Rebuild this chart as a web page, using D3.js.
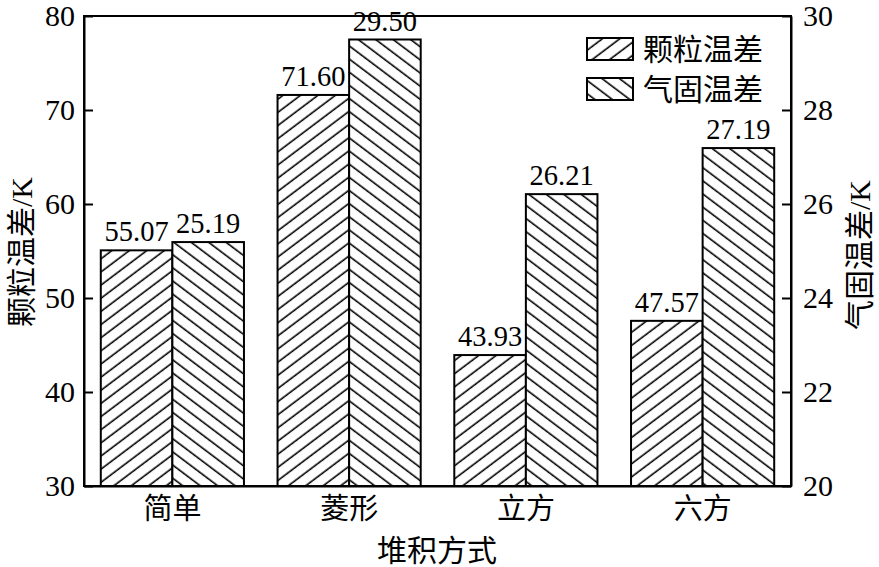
<!DOCTYPE html>
<html><head><meta charset="utf-8">
<script src="https://cdn.jsdelivr.net/npm/d3@7"></script>
<style>body{margin:0;background:#fff}svg text{font-family:"Liberation Serif","Noto Sans CJK SC",serif;fill:#000}</style>
</head><body><svg id="c" width="879" height="567"></svg>
<script>
const categories = ["简单","菱形","立方","六方"];
const particleDiff = [55.07, 71.60, 43.93, 47.57];
const gasSolidDiff = [25.19, 29.50, 26.21, 27.19];
const leftTicks = [30,40,50,60,70,80];
const rightTicks = [20,22,24,26,28,30];
const seriesNames = ["颗粒温差","气固温差"];

const svg = d3.select("#c");
const L=84, R=791, T=16, B=486;
const x = d3.scaleBand().domain(categories).range([L,R]).paddingInner(0.19).paddingOuter(0.095);
const yL = d3.scaleLinear().domain([30,80]).range([B,T]);
const yR = d3.scaleLinear().domain([20,30]).range([B,T]);

const defs = svg.append("defs");
function hatch(id, angle){
  const p = defs.append("pattern").attr("id",id).attr("patternUnits","userSpaceOnUse")
    .attr("width",10.5).attr("height",10.5).attr("patternTransform",`rotate(${angle})`);
  p.append("rect").attr("width",10.5).attr("height",10.5).attr("fill","#fff");
  p.append("line").attr("x1",0).attr("x2",10.5).attr("y1",5).attr("y2",5).attr("stroke","#000").attr("stroke-width",1.6);
}
hatch("h1",-37); hatch("h2",37);

const bw = x.bandwidth()/2;
const g = svg.append("g");
categories.forEach((c,i)=>{
  const x0 = x(c);
  g.append("rect").attr("x",x0).attr("y",yL(particleDiff[i])).attr("width",bw).attr("height",B-yL(particleDiff[i]))
    .attr("fill","url(#h1)").attr("stroke","#000").attr("stroke-width",2);
  g.append("rect").attr("x",x0+bw).attr("y",yR(gasSolidDiff[i])).attr("width",bw).attr("height",B-yR(gasSolidDiff[i]))
    .attr("fill","url(#h2)").attr("stroke","#000").attr("stroke-width",2);
  svg.append("text").attr("x",x0+bw/2).attr("y",yL(particleDiff[i])-9).attr("text-anchor","middle").attr("font-size",28.5).text(particleDiff[i].toFixed(2));
  svg.append("text").attr("x",x0+bw*1.5).attr("y",yR(gasSolidDiff[i])-9).attr("text-anchor","middle").attr("font-size",28.5).text(gasSolidDiff[i].toFixed(2));
});

// frame
svg.append("rect").attr("x",L).attr("y",T).attr("width",R-L).attr("height",B-T).attr("fill","none").attr("stroke","#000").attr("stroke-width",2);

const axL = svg.append("g").attr("transform",`translate(${L},0)`)
  .call(d3.axisLeft(yL).tickValues(leftTicks).tickSizeInner(-9).tickSizeOuter(0).tickPadding(9));
const axR = svg.append("g").attr("transform",`translate(${R},0)`)
  .call(d3.axisRight(yR).tickValues(rightTicks).tickSizeInner(-9).tickSizeOuter(0).tickPadding(12));
const axB = svg.append("g").attr("transform",`translate(0,${B})`)
  .call(d3.axisBottom(x).tickSize(0).tickPadding(12));
[axL,axR,axB].forEach(a=>{
  a.select(".domain").attr("stroke","#000").attr("stroke-width",2);
  a.selectAll(".tick line").attr("stroke","#000").attr("stroke-width",2);
  a.selectAll("text").attr("font-size",30).attr("fill","#000").style("font-family",'"Liberation Serif","Noto Sans CJK SC",serif');
});
axB.selectAll("text").attr("font-size",29);

svg.append("text").attr("transform","translate(32,252) rotate(-90)").attr("text-anchor","middle").attr("font-size",30).text("颗粒温差/K");
svg.append("text").attr("transform","translate(870,255) rotate(-90)").attr("text-anchor","middle").attr("font-size",30).text("气固温差/K");
svg.append("text").attr("x",437).attr("y",561).attr("text-anchor","middle").attr("font-size",30).text("堆积方式");

// legend
seriesNames.forEach((n,i)=>{
  const yy = 38 + i*40;
  svg.append("rect").attr("x",587).attr("y",yy).attr("width",46).attr("height",22)
    .attr("fill",i===0?"url(#h1)":"url(#h2)").attr("stroke","#000").attr("stroke-width",2);
  svg.append("text").attr("x",643).attr("y",yy+22).attr("font-size",30).text(n);
});
</script></body></html>
